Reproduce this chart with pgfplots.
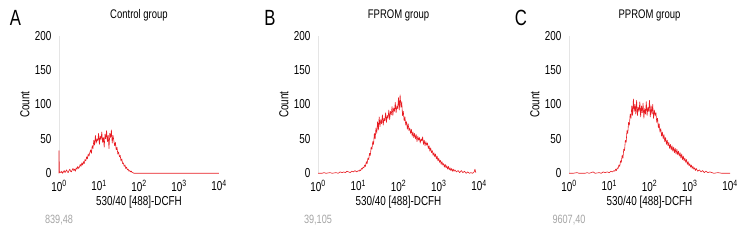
\documentclass[border=0pt]{standalone}
\usepackage{fontspec}
\setmainfont{Liberation Sans}[FakeStretch=0.76]
\usepackage{pgfplots}
\pgfplotsset{compat=1.18}
\definecolor{histred}{RGB}{232,28,34}
\definecolor{numgrey}{RGB}{165,165,165}
\pgfplotsset{
  flowax/.style={
    scale only axis, width=160pt, height=137.6pt,
    xmin=0, xmax=4, ymin=0, ymax=200, clip=false,
    axis lines*=left,
    x axis line style={draw=none},
    y axis line style={draw=black!10, line width=0.6pt},
    major tick length=0pt,
    xtick={0,1,2,3,4},
    xticklabels={10\textsuperscript{0},10\textsuperscript{1},10\textsuperscript{2},10\textsuperscript{3},10\textsuperscript{4}},
    ytick={0,50,100,150,200},
    /pgf/number format/assume math mode=true,
    tick label style={font=\fontsize{13}{15}\selectfont},
    xticklabel style={yshift=-3.5pt},
    yticklabel style={xshift=-4pt},
    xlabel={530/40 [488]-DCFH},
    ylabel={Count},
    label style={font=\fontsize{13}{15}\selectfont},
    xlabel style={at={(axis description cs:0.5,-0.209)}, anchor=center},
    ylabel style={at={(axis description cs:-0.2125,0.5)}, anchor=center},
    title style={at={(axis description cs:0.5,1.107)}, anchor=center, font=\fontsize{12.5}{15}\selectfont},
  },
  hist/.style={histred, line width=0.6pt, line join=round, mark=none},
}
\begin{document}
\begin{tikzpicture}
\path (0pt,0pt) rectangle (756pt,240pt);
% Panel A
\begin{axis}[flowax, at={(59pt,66.7pt)}, anchor=south west, title={Control group}]
\addplot[hist] coordinates {(0,0) (0,33) (0.01,1) (0.03,2) (0.05,1) (0.07,3) (0.09,0) (0.11,2) (0.13,4) (0.15,1) (0.17,3) (0.19,5) (0.21,2) (0.23,1) (0.25,4) (0.27,6) (0.29,3) (0.31,2) (0.33,5) (0.35,7) (0.37,4) (0.39,6) (0.41,3) (0.43,8) (0.45,6) (0.47,10) (0.49,7) (0.51,9) (0.53,13) (0.55,10) (0.57,15) (0.59,12) (0.61,17) (0.63,14) (0.65,20) (0.67,18) (0.69,24) (0.71,21) (0.73,28) (0.75,25) (0.77,30) (0.79,34) (0.81,29) (0.83,40) (0.85,36) (0.87,48) (0.89,41) (0.91,55) (0.93,44) (0.95,50) (0.97,47) (0.99,58) (1.01,42) (1.03,54) (1.05,49) (1.07,60) (1.09,45) (1.11,52) (1.13,38) (1.15,57) (1.17,50) (1.19,62) (1.21,46) (1.23,55) (1.25,36) (1.27,58) (1.29,52) (1.31,63) (1.33,44) (1.35,55) (1.37,48) (1.39,40) (1.41,45) (1.43,34) (1.45,38) (1.47,28) (1.49,31) (1.51,24) (1.53,26) (1.55,18) (1.57,21) (1.59,14) (1.61,15) (1.63,10) (1.65,12) (1.67,7) (1.69,9) (1.71,5) (1.73,6) (1.75,3) (1.77,4) (1.79,2) (1.81,3) (1.83,1) (1.85,1) (1.87,0) (1.9,0) (4,0)};
\node[font=\fontsize{22}{24}\selectfont] at (axis description cs:-0.272,1.129) {A};
\node[font=\fontsize{12}{14}\selectfont, text=numgrey] at (axis description cs:0,-0.339) {839,48};
\end{axis}
% Panel B
\begin{axis}[flowax, width=161pt, at={(318pt,66.7pt)}, anchor=south west, title={FPROM group}]
\addplot[hist] coordinates {(0,0) (0.1,0) (0.15,1) (0.2,0) (0.3,1) (0.35,0) (0.45,1) (0.5,0) (0.55,2) (0.6,1) (0.64,2) (0.68,1) (0.72,3) (0.76,2) (0.8,1) (0.84,3) (0.88,2) (0.92,4) (0.96,2) (1.0,4) (1.02,3) (1.04,5) (1.06,4) (1.08,7) (1.1,6) (1.12,9) (1.14,8) (1.16,12) (1.18,10) (1.2,17) (1.22,14) (1.24,22) (1.26,20) (1.28,29) (1.3,26) (1.32,38) (1.34,35) (1.36,46) (1.38,42) (1.4,58) (1.42,50) (1.44,66) (1.46,58) (1.48,75) (1.5,63) (1.52,82) (1.54,68) (1.56,78) (1.58,72) (1.6,85) (1.62,70) (1.64,80) (1.66,76) (1.68,88) (1.7,74) (1.72,84) (1.74,80) (1.76,92) (1.78,78) (1.8,90) (1.82,85) (1.84,97) (1.86,84) (1.88,95) (1.9,90) (1.92,103) (1.94,88) (1.96,98) (1.98,94) (2.0,110) (2.02,92) (2.04,114) (2.06,96) (2.08,104) (2.1,84) (2.12,90) (2.14,76) (2.16,82) (2.18,70) (2.2,75) (2.22,64) (2.24,72) (2.26,62) (2.28,66) (2.3,58) (2.32,64) (2.34,54) (2.36,60) (2.38,52) (2.4,58) (2.42,50) (2.44,56) (2.46,46) (2.48,54) (2.5,48) (2.52,52) (2.54,44) (2.56,50) (2.58,47) (2.6,53) (2.62,42) (2.64,48) (2.66,40) (2.68,46) (2.7,41) (2.72,44) (2.74,36) (2.76,40) (2.78,32) (2.8,37) (2.82,30) (2.84,33) (2.86,26) (2.88,30) (2.9,24) (2.92,28) (2.94,21) (2.96,25) (2.98,18) (3.0,22) (3.02,16) (3.04,19) (3.06,13) (3.08,17) (3.1,12) (3.12,14) (3.14,9) (3.16,13) (3.18,8) (3.2,11) (3.22,6) (3.24,10) (3.26,5) (3.28,8) (3.3,4) (3.32,7) (3.34,3) (3.36,6) (3.38,3) (3.4,5) (3.44,2) (3.48,4) (3.52,1) (3.56,4) (3.6,1) (3.64,3) (3.68,0) (3.72,2) (3.76,0) (3.8,1) (3.84,0) (3.88,2) (3.9,6) (3.92,1)};
\node[font=\fontsize{22}{24}\selectfont] at (axis description cs:-0.298,1.129) {B};
\node[font=\fontsize{12}{14}\selectfont, text=numgrey] at (axis description cs:0,-0.339) {39,105};
\end{axis}
% Panel C
\begin{axis}[flowax, width=161pt, at={(569pt,66.7pt)}, anchor=south west, title={PPROM group}]
\addplot[hist] coordinates {(0,0) (0.1,0) (0.2,1) (0.25,0) (0.4,0) (0.45,1) (0.5,0) (0.6,2) (0.65,0) (0.75,1) (0.8,0) (0.85,2) (0.9,1) (0.95,2) (1.0,1) (1.04,3) (1.08,2) (1.12,4) (1.14,3) (1.16,6) (1.18,4) (1.2,8) (1.22,7) (1.24,12) (1.26,10) (1.28,18) (1.3,16) (1.32,26) (1.34,22) (1.36,35) (1.38,33) (1.4,48) (1.42,45) (1.44,62) (1.46,58) (1.48,74) (1.5,70) (1.52,86) (1.54,80) (1.56,98) (1.58,84) (1.6,108) (1.62,90) (1.64,100) (1.66,86) (1.68,106) (1.7,84) (1.72,96) (1.74,90) (1.76,104) (1.78,82) (1.8,98) (1.82,88) (1.84,102) (1.86,80) (1.88,94) (1.9,86) (1.92,104) (1.94,84) (1.96,96) (1.98,90) (2.0,106) (2.02,82) (2.04,98) (2.06,86) (2.08,100) (2.1,80) (2.12,92) (2.14,84) (2.16,88) (2.18,74) (2.2,80) (2.22,66) (2.24,72) (2.26,60) (2.28,65) (2.3,54) (2.32,60) (2.34,50) (2.36,56) (2.38,46) (2.4,52) (2.42,42) (2.44,48) (2.46,40) (2.48,45) (2.5,36) (2.52,42) (2.54,34) (2.56,40) (2.58,32) (2.6,38) (2.62,30) (2.64,36) (2.66,28) (2.68,35) (2.7,27) (2.72,32) (2.74,25) (2.76,30) (2.78,22) (2.8,28) (2.82,20) (2.84,25) (2.86,18) (2.88,22) (2.9,16) (2.92,20) (2.94,13) (2.96,17) (2.98,11) (3.0,14) (3.02,9) (3.04,12) (3.06,7) (3.08,10) (3.1,6) (3.12,8) (3.14,4) (3.16,7) (3.2,3) (3.24,5) (3.28,2) (3.32,4) (3.36,1) (3.4,3) (3.45,1) (3.5,2) (3.6,0) (3.7,1) (3.8,0) (4.0,0)};
\node[font=\fontsize{22}{24}\selectfont] at (axis description cs:-0.298,1.129) {C};
\node[font=\fontsize{12}{14}\selectfont, text=numgrey] at (axis description cs:0,-0.339) {9607,40};
\end{axis}
\end{tikzpicture}
\end{document}
